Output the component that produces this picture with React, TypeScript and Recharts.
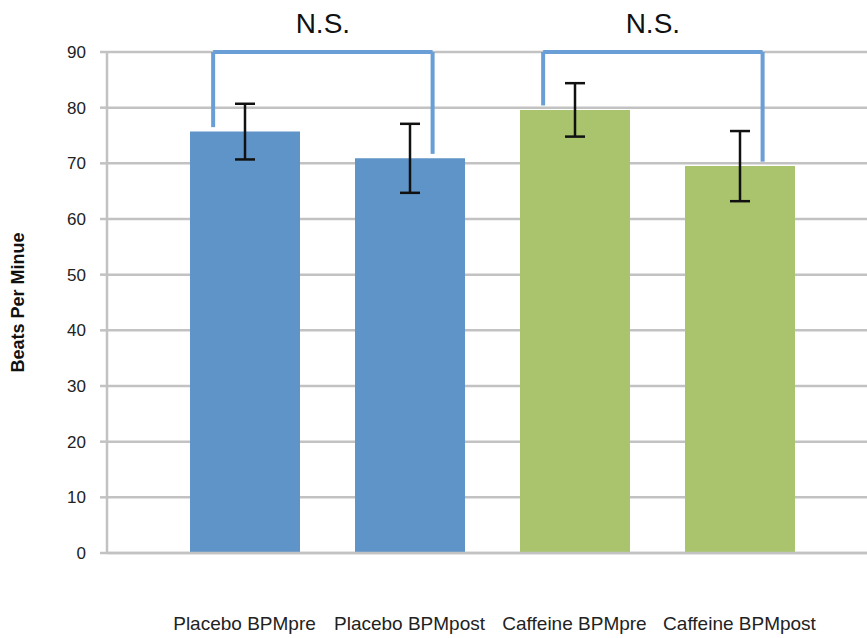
import React from 'react';
import {
  BarChart,
  Bar,
  Cell,
  XAxis,
  YAxis,
  CartesianGrid,
  ErrorBar,
  ReferenceLine,
} from 'recharts';

// values
const categories = ['Placebo BPMpre', 'Placebo BPMpost', 'Caffeine BPMpre', 'Caffeine BPMpost'];
const groups = ['Placebo', 'Placebo', 'Caffeine', 'Caffeine'];
const means = [75.7, 70.9, 79.6, 69.5];
const errors = [5.0, 6.2, 4.8, 6.3];
const yTicks = [0, 10, 20, 30, 40, 50, 60, 70, 80, 90];
const comparisons = [
  { from: 0, to: 1, label: 'N.S.' },
  { from: 2, to: 3, label: 'N.S.' },
];

const groupColors: Record<string, string> = {
  Placebo: '#5f94c9',
  Caffeine: '#a9c46c',
};

const FONT = '"Liberation Sans", Arial, sans-serif';
const GRID = '#c2c2c2';
const BRACKET = '#6a9ed6';
const X_PAD = { left: 55, right: 45 };

// pos = centre of each category slot on the hidden numeric axis
const data = categories.map((name, i) => ({ name, pos: i + 0.5, mean: means[i], err: errors[i] }));

export default function App() {
  return (
    <div style={{ position: 'absolute', left: 0, top: 0, background: '#fff' }}>
      <BarChart
        width={867}
        height={638}
        data={data}
        margin={{ top: 52, right: 0, bottom: 0, left: 0 }}
        barSize={110}
      >
        <CartesianGrid vertical={false} stroke={GRID} strokeWidth={2.5} />
        <XAxis
          dataKey="name"
          height={85}
          padding={X_PAD}
          axisLine={{ stroke: GRID, strokeWidth: 2.5 }}
          tickLine={false}
          tickMargin={58}
          interval={0}
          tick={{ fill: '#222', fontSize: 19, fontFamily: FONT }}
        />
        {/* hidden numeric axis on the same range, used to place the brackets */}
        <XAxis
          xAxisId="br"
          dataKey="pos"
          type="number"
          domain={[0, 4]}
          padding={X_PAD}
          hide
          allowDataOverflow
        />
        <YAxis
          width={107}
          domain={[0, 90]}
          ticks={yTicks}
          interval={0}
          axisLine={{ stroke: GRID, strokeWidth: 2.5 }}
          tickLine={{ stroke: GRID, strokeWidth: 2.5 }}
          tickSize={7}
          tickMargin={14}
          tick={{ fill: '#222', fontSize: 17, fontFamily: FONT }}
          label={{
            value: 'Beats Per Minue',
            angle: -90,
            position: 'insideLeft',
            offset: 18,
            fill: '#111',
            fontSize: 18,
            fontWeight: 'bold',
            fontFamily: FONT,
            style: { textAnchor: 'middle' },
          }}
        />
        <Bar dataKey="mean" isAnimationActive={false}>
          {data.map((d, i) => (
            <Cell key={d.name} fill={groupColors[groups[i]]} />
          ))}
          <ErrorBar dataKey="err" width={10} stroke="#111" strokeWidth={2.5} isAnimationActive={false} />
        </Bar>
        {comparisons.map((c, k) => {
          const x1 = c.from + 0.5 - 0.19;
          const x2 = c.to + 0.5 + 0.14;
          const top = 90;
          return (
            <React.Fragment key={k}>
              <ReferenceLine
                xAxisId="br"
                segment={[{ x: x1, y: means[c.from] + 0.8 }, { x: x1, y: top }]}
                stroke={BRACKET}
                strokeWidth={4}
                ifOverflow="visible"
              />
              <ReferenceLine
                xAxisId="br"
                segment={[{ x: x1, y: top }, { x: x2, y: top }]}
                stroke={BRACKET}
                strokeWidth={4}
                ifOverflow="visible"
                label={{
                  value: c.label,
                  position: 'top',
                  offset: 19,
                  fill: '#111',
                  fontSize: 28,
                  fontFamily: FONT,
                }}
              />
              <ReferenceLine
                xAxisId="br"
                segment={[{ x: x2, y: top }, { x: x2, y: means[c.to] + 0.8 }]}
                stroke={BRACKET}
                strokeWidth={4}
                ifOverflow="visible"
              />
            </React.Fragment>
          );
        })}
      </BarChart>
    </div>
  );
}
